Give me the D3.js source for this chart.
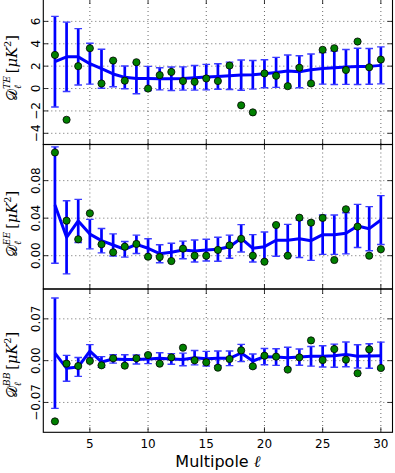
<!DOCTYPE html>
<html>
<head>
<meta charset="utf-8">
<script src="https://cdn.jsdelivr.net/npm/d3@7"></script>
<style>
  html, body { margin: 0; padding: 0; background: #fff; }
  svg { display: block; }
</style>
</head>
<body>
<svg id="chart"></svg>
<script>
const ells = [2, 3, 4, 5, 6, 7, 8, 9, 10, 11, 12, 13, 14, 15, 16, 17, 18, 19, 20, 21, 22, 23, 24, 25, 26, 27, 28, 29, 30];

const teData = [3.0, -2.79, 2.0, 3.6, 0.45, 2.5, 0.7, 2.35, 0.0, 1.2, 1.48, 0.67, 0.6, 0.9, 0.67, 2.05, -1.5, -2.13, 1.35, 1.14, 0.21, 1.86, 0.45, 3.46, 3.6, 1.66, 4.2, 1.9, 2.59];
const teModel = [2.4, 2.83, 2.83, 2.22, 1.77, 1.3, 1.0, 0.9, 0.9, 0.87, 0.87, 0.9, 0.96, 1.02, 1.08, 1.14, 1.2, 1.23, 1.32, 1.44, 1.56, 1.5, 1.68, 1.8, 1.86, 1.93, 1.98, 1.98, 2.07];
const teErr = [4.05, 3.1, 2.52, 1.83, 1.74, 1.14, 1.02, 1.37, 1.08, 0.99, 1.05, 1.04, 1.1, 1.14, 1.14, 1.22, 1.35, 1.28, 1.25, 1.34, 1.44, 1.43, 1.4, 1.41, 1.5, 1.56, 1.62, 1.6, 1.65];

const eeData = [0.110, 0.0373, 0.0175, 0.0452, 0.0121, 0.0036, 0.0096, 0.0125, -0.001, -0.0014, -0.0057, 0.0075, 0.0, 0.0, 0.0061, 0.011, 0.018, 0.0, -0.0064, 0.0327, 0.0, 0.0405, 0.0352, 0.0402, -0.0046, 0.0495, 0.031, 0.0, 0.0068];
const eeModel = [0.054, 0.0196, 0.037, 0.023, 0.016, 0.0114, 0.0068, 0.0121, 0.0079, 0.0021, 0.0036, 0.0061, 0.005, 0.006, 0.0068, 0.0096, 0.0185, 0.0079, 0.0096, 0.0164, 0.0164, 0.018, 0.016, 0.0224, 0.0224, 0.0238, 0.0317, 0.0288, 0.038];
const eeErr = [0.062, 0.039, 0.023, 0.0157, 0.013, 0.0118, 0.0083, 0.0098, 0.0101, 0.0096, 0.0096, 0.0094, 0.0117, 0.0116, 0.0128, 0.0123, 0.0146, 0.0146, 0.0156, 0.017, 0.017, 0.020, 0.021, 0.021, 0.021, 0.0219, 0.023, 0.0235, 0.026];

const bbData = [-0.1017, -0.005, -0.009, -0.0006, -0.0078, 0.0039, -0.0084, 0.0039, 0.0094, -0.005, 0.0055, 0.0217, 0.0006, -0.0028, -0.0117, 0.0028, 0.0172, -0.0095, 0.0083, 0.0067, -0.015, 0.0055, 0.0339, 0.001, 0.0194, 0.0017, -0.0211, 0.0189, -0.0123];
const bbModel = [0.0125, -0.0128, -0.0106, 0.016, -0.0022, 0.0028, 0.002, 0.002, 0.0028, 0.0039, 0.0028, 0.002, 0.005, 0.0033, 0.0039, 0.0039, 0.0128, -0.0006, 0.0067, 0.006, 0.005, 0.006, 0.0072, 0.0072, 0.0083, 0.0105, 0.0072, 0.0078, 0.0083];
const bbErr = [0.0925, 0.0217, 0.0158, 0.0108, 0.009, 0.007, 0.0078, 0.0075, 0.0078, 0.0094, 0.0089, 0.0106, 0.012, 0.0122, 0.0122, 0.0122, 0.0144, 0.0117, 0.0136, 0.0139, 0.0175, 0.0136, 0.0164, 0.0178, 0.0194, 0.0208, 0.0194, 0.0206, 0.0228];

const xTicks = [5, 10, 15, 20, 25, 30];
const teTicks = [-4, -2, 0, 2, 4, 6];
const eeTicks = [0, 0.04, 0.08];
const bbTicks = [-0.07, 0, 0.07];

const width = 395;
const height = 473;
const left = 43.3;
const right = 392.5;
const panelEdges = [-1, 144.5, 289, 432.3];

const panels = [
  { spec: "TE", data: teData, model: teModel, err: teErr, domain: [-5, 8], ticks: teTicks, fmt: d3.format("d"), labelMid: 68 },
  { spec: "EE", data: eeData, model: eeModel, err: eeErr, domain: [-0.0355, 0.1185], ticks: eeTicks, fmt: d3.format(".2f"), labelMid: 224 },
  { spec: "BB", data: bbData, model: bbModel, err: bbErr, domain: [-0.12, 0.12], ticks: bbTicks, fmt: d3.format(".2f"), labelMid: 365 }
];

const svg = d3.select("#chart").attr("width", width).attr("height", height);
const x = d3.scaleLinear().domain([1, 31]).range([left, right]);

const TICK = 5;
const LABEL_LEN = 70;

function yLabel(g, cy, sup) {
  const holder = g.append("g");
  const t = holder.append("text")
    .attr("text-anchor", "middle")
    .attr("font-family", "'DejaVu Serif', 'Liberation Serif', serif")
    .attr("font-size", 15)
    .attr("fill", "#000");
  t.append("tspan").text("\u{1D49F}");
  const sub = t.append("tspan").attr("font-size", 10).attr("font-style", "italic").attr("dy", 4).text("\u2113");
  const w = sub.node().getComputedTextLength();
  t.append("tspan").attr("font-size", 9.5).attr("font-style", "italic").attr("dx", -w).attr("dy", -11).text(sup);
  t.append("tspan").attr("dy", 7).text("\u2009[");
  t.append("tspan").attr("font-style", "italic").text("\u03BCK");
  t.append("tspan").attr("font-size", 10).attr("dy", -6).text("2");
  t.append("tspan").attr("dy", 6).text("]");
  const len = t.node().getComputedTextLength();
  const k = Math.min(1, LABEL_LEN / len);
  holder.attr("transform", `translate(17,${cy}) rotate(-90) scale(${k})`);
}

panels.forEach((p, i) => {
  const top = panelEdges[i];
  const bottom = panelEdges[i + 1];
  const y = d3.scaleLinear().domain(p.domain).range([bottom, top]);
  const rows = ells.map((l, k) => ({ l, v: p.data[k], m: p.model[k], e: p.err[k] }));

  const g = svg.append("g");
  const clipId = `clip-${p.spec}`;
  svg.append("clipPath").attr("id", clipId)
    .append("rect").attr("x", left).attr("y", top).attr("width", right - left).attr("height", bottom - top);

  // grid
  const grid = g.append("g")
    .attr("stroke", "#000")
    .attr("stroke-width", 0.6)
    .attr("stroke-dasharray", "1,3");
  grid.selectAll("line.vx").data(xTicks).join("line")
    .attr("x1", (d) => x(d)).attr("x2", (d) => x(d))
    .attr("y1", top).attr("y2", bottom);
  grid.selectAll("line.hy").data(p.ticks).join("line")
    .attr("x1", left).attr("x2", right)
    .attr("y1", (d) => y(d)).attr("y2", (d) => y(d));

  // tick marks pointing inward on all sides
  const ticks = g.append("g").attr("stroke", "#000").attr("stroke-width", 0.8);
  xTicks.forEach((d) => {
    ticks.append("line").attr("x1", x(d)).attr("x2", x(d)).attr("y1", bottom).attr("y2", bottom - TICK);
    ticks.append("line").attr("x1", x(d)).attr("x2", x(d)).attr("y1", top).attr("y2", top + TICK);
  });
  p.ticks.forEach((d) => {
    ticks.append("line").attr("x1", left).attr("x2", left + TICK).attr("y1", y(d)).attr("y2", y(d));
    ticks.append("line").attr("x1", right).attr("x2", right - TICK).attr("y1", y(d)).attr("y2", y(d));
  });

  const plot = g.append("g").attr("clip-path", `url(#${clipId})`);

  // error bars around the model
  const bars = plot.append("g").selectAll("g").data(rows).join("g");
  bars.append("line")
    .attr("x1", (d) => x(d.l)).attr("x2", (d) => x(d.l))
    .attr("y1", (d) => y(d.m - d.e)).attr("y2", (d) => y(d.m + d.e))
    .attr("stroke", "#0000ff").attr("stroke-width", 2.7);
  [-1, 1].forEach((s) => {
    bars.append("line")
      .attr("x1", (d) => x(d.l) - 3.8).attr("x2", (d) => x(d.l) + 3.8)
      .attr("y1", (d) => y(d.m + s * d.e)).attr("y2", (d) => y(d.m + s * d.e))
      .attr("stroke", "#3b3bff").attr("stroke-width", 1.4);
  });

  plot.append("path")
    .datum(rows)
    .attr("fill", "none")
    .attr("stroke", "#0000ff")
    .attr("stroke-width", 3)
    .attr("stroke-linejoin", "round")
    .attr("d", d3.line().x((d) => x(d.l)).y((d) => y(d.m)));

  plot.append("g").selectAll("circle").data(rows).join("circle")
    .attr("cx", (d) => x(d.l))
    .attr("cy", (d) => y(d.v))
    .attr("r", 3.6)
    .attr("fill", "#008000")
    .attr("stroke", "#000")
    .attr("stroke-width", 0.8);

  // frame
  g.append("rect")
    .attr("x", left).attr("y", top)
    .attr("width", right - left).attr("height", bottom - top)
    .attr("fill", "none").attr("stroke", "#000").attr("stroke-width", 1.1);

  // y tick labels, rotated like the original
  g.append("g").selectAll("text").data(p.ticks).join("text")
    .attr("transform", (d) => `translate(40,${y(d)}) rotate(-90)`)
    .attr("text-anchor", "middle")
    .attr("font-family", "'DejaVu Sans', sans-serif")
    .attr("font-size", 12)
    .text((d) => p.fmt(d));

  yLabel(g, p.labelMid, p.spec);

  if (i === panels.length - 1) {
    g.append("g").selectAll("text").data(xTicks).join("text")
      .attr("x", (d) => x(d))
      .attr("y", bottom + 16)
      .attr("text-anchor", "middle")
      .attr("font-family", "'DejaVu Sans', sans-serif")
      .attr("font-size", 12)
      .text((d) => d);

    const xl = g.append("text")
      .attr("x", (left + right) / 2)
      .attr("y", 466.5)
      .attr("text-anchor", "middle")
      .attr("font-family", "'DejaVu Sans', sans-serif")
      .attr("font-size", 16);
    xl.append("tspan").text("Multipole ");
    xl.append("tspan").attr("font-family", "'DejaVu Serif', serif").attr("font-style", "italic").text("\u2113");
  }
});
</script>
</body>
</html>
